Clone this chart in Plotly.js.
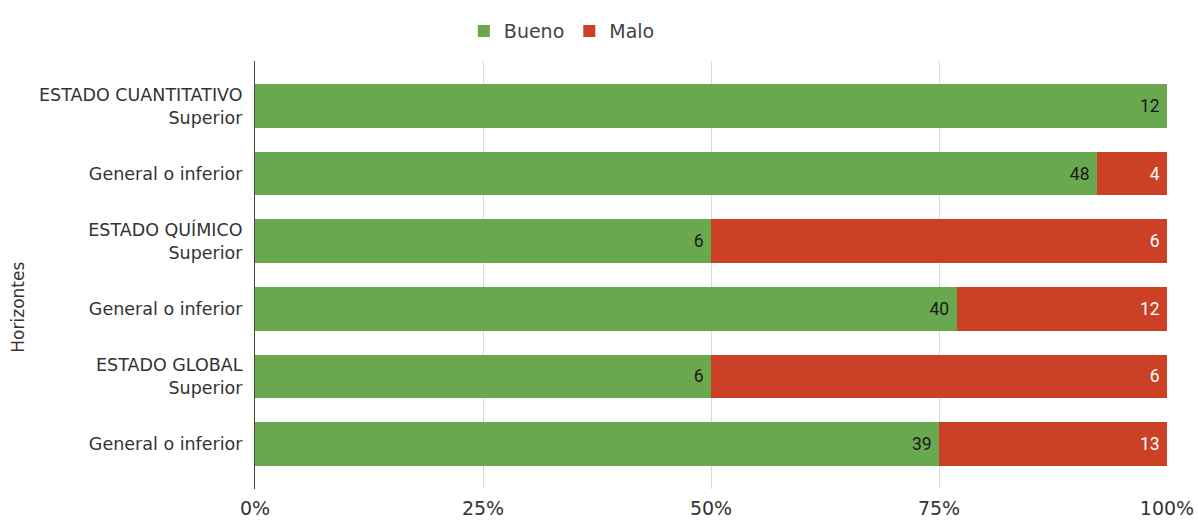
<!DOCTYPE html>
<html>
<head>
<meta charset="utf-8">
<script src="https://cdn.plot.ly/plotly-3.0.1.min.js"></script>
<style>html,body{margin:0;padding:0;background:#fff;}#chart{width:1198px;height:523px;}</style>
</head>
<body>
<div id="chart"></div>
<script>
var categoryLabels = [
  "ESTADO CUANTITATIVO<br>Superior",
  "General o inferior",
  "ESTADO QUÍMICO<br>Superior",
  "General o inferior",
  "ESTADO GLOBAL<br>Superior",
  "General o inferior"
];
var bueno = [12, 48, 6, 40, 6, 39];
var malo = [0, 4, 6, 12, 6, 13];
var xTickVals = [0, 25, 50, 75, 100];
var xTickText = ["0%", "25%", "50%", "75%", "100%"];

var positions = categoryLabels.map(function(_, i){ return i; });
function labels(arr){ return arr.map(function(v){ return v > 0 ? String(v) : ""; }); }

var traces = [
  {
    type: "bar", orientation: "h", name: "Bueno",
    y: positions, x: bueno, text: labels(bueno), texttemplate: "%{text}&nbsp;",
    textposition: "inside", insidetextanchor: "end", constraintext: "none",
    textfont: {family: "Roboto", size: 17.5, color: "#1a1a1a"},
    marker: {color: "#6aa84f"}, hoverinfo: "x+name"
  },
  {
    type: "bar", orientation: "h", name: "Malo",
    y: positions, x: malo, text: labels(malo), texttemplate: "%{text}&nbsp;",
    textposition: "inside", insidetextanchor: "end", constraintext: "none",
    textfont: {family: "Roboto", size: 17.5, color: "#ffffff"},
    marker: {color: "#cc4125"}, hoverinfo: "x+name"
  }
];

var layout = {
  width: 1198, height: 523,
  margin: {l: 255, r: 31, t: 57, b: 34},
  paper_bgcolor: "#ffffff", plot_bgcolor: "#ffffff",
  barmode: "stack", barnorm: "percent", bargap: 0.355,
  font: {family: "DejaVu Sans", size: 17.5, color: "#333"},
  showlegend: true,
  legend: {orientation: "h", x: 0.229, xanchor: "left", y: 1.07, yanchor: "middle",
           font: {family: "DejaVu Sans", size: 19, color: "#444"}, traceorder: "normal", itemwidth: 30},
  xaxis: {
    range: [0, 100], tickvals: xTickVals, ticktext: xTickText,
    showgrid: true, gridcolor: "#d9d9d9", gridwidth: 1, zeroline: false,
    showline: false, ticks: "", ticklabelstandoff: 6,
    tickfont: {family: "DejaVu Sans", size: 19, color: "#333"}, fixedrange: true
  },
  yaxis: {
    tickvals: positions, ticktext: categoryLabels,
    range: [5.667, -0.667], autorange: false,
    showgrid: false, zeroline: false, showline: true, linecolor: "#444", linewidth: 1,
    ticks: "", ticklabelstandoff: 8,
    tickfont: {family: "DejaVu Sans", size: 17.5, color: "#333"}, fixedrange: true
  },
  annotations: [{
    text: "Horizontes", textangle: -90, xref: "paper", yref: "paper",
    x: (18 - 255) / 912, y: (489 - 306) / 432, xanchor: "center", yanchor: "middle",
    showarrow: false, font: {family: "DejaVu Sans", size: 17, color: "#333"}
  }]
};

Plotly.newPlot("chart", traces, layout, {displayModeBar: false, staticPlot: true});
</script>
</body>
</html>
